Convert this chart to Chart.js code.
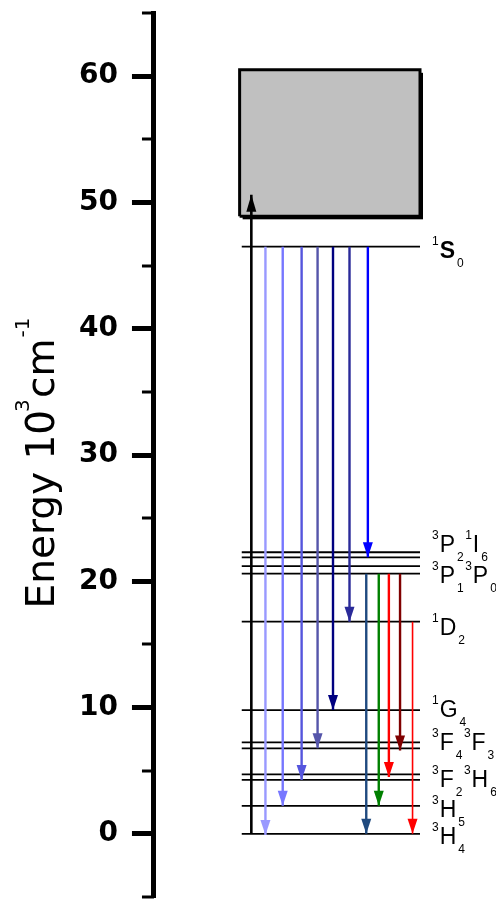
<!DOCTYPE html>
<html>
<head>
<meta charset="utf-8">
<script src="https://cdn.jsdelivr.net/npm/chart.js@4"></script>
<style>
  html, body { margin: 0; padding: 0; background: #fff; }
  #wrap { width: 496px; height: 899px; }
</style>
</head>
<body>
<div id="wrap"><canvas id="levels"></canvas></div>
<script>
// energy levels (10^3 cm-1)
const levelNames = ['1S0', '3P2', '1I6', '3P1', '3P0', '1D2', '1G4', '3F4', '3F3', '3F2', '3H6', '3H5', '3H4'];
const levelEnergy = [46.5, 22.3, 21.9, 21.2, 20.6, 16.8, 9.8, 7.25, 6.77, 4.71, 4.27, 2.22, 0];
const levelSpan = [3.3, 10];

// conduction band box
const bandX = [3.22, 10];
const bandY = [48.9, 60.5];

// excitation arrow
const pumpX = 3.66;
const pumpFrom = 0;
const pumpTo = 50.6;

// emission arrows
const arrowX = [4.19, 4.84, 5.55, 6.15, 6.73, 7.35, 8.04, 7.98, 8.45, 8.83, 9.25, 9.72];
const arrowFrom = [46.5, 46.5, 46.5, 46.5, 46.5, 46.5, 46.5, 20.6, 20.6, 20.6, 20.6, 16.8];
const arrowTo = [-0.1, 2.22, 4.27, 6.77, 9.8, 16.8, 21.9, 0, 2.22, 4.5, 6.6, 0];
const arrowColors = ['#9999ff', '#7777ff', '#5555dd', '#5555aa', '#000080', '#2a2a99', '#0000ff',
  '#1f4a7f', '#008000', '#ff0000', '#800000', '#ff0000'];

const yTicks = [0, 10, 20, 30, 40, 50, 60];
const yMin = -5;
const yMax = 65;

// level labels: ^ = superscript, _ = subscript
const labelTexts = ['^1S_0', '^3P_2^1I_6', '^3P_1^3P_0', '^1D_2', '^1G_4', '^3F_4^3F_3', '^3F_2^3H_6', '^3H_5', '^3H_4'];
const labelAt = [45.6, 22.33, 19.87, 15.76, 9.26, 6.65, 3.72, 1.35, -0.79];

const FONT = '"Liberation Sans", Arial, sans-serif';

const datasets = [];

arrowX.forEach((x, i) => {
  datasets.push({
    data: [{ x, y: arrowFrom[i] }, { x, y: arrowTo[i] }],
    borderColor: arrowColors[i],
    borderWidth: i === 11 ? 1.6 : 2.4,
    arrowHead: true,
  });
});

datasets.push({
  data: [{ x: pumpX, y: pumpFrom }, { x: pumpX, y: pumpTo }],
  borderColor: '#000',
  borderWidth: 2.6,
  arrowHead: true,
});

levelEnergy.forEach((e) => {
  datasets.push({
    data: [{ x: levelSpan[0], y: e }, { x: levelSpan[1], y: e }],
    borderColor: '#000',
    borderWidth: 1.8,
  });
});

datasets.push({
  data: [
    { x: bandX[0], y: bandY[0] }, { x: bandX[1], y: bandY[0] },
    { x: bandX[1], y: bandY[1] }, { x: bandX[0], y: bandY[1] },
    { x: bandX[0], y: bandY[0] },
  ],
  borderColor: '#000',
  borderWidth: 3,
  backgroundColor: '#c0c0c0',
  fill: 'shape',
});

function drawLevelLabel(ctx, text, x, y, bold) {
  let i = 0;
  while (i < text.length) {
    const c = text[i];
    if (c === '^' || c === '_') {
      const d = text[i + 1];
      ctx.font = `12px ${FONT}`;
      ctx.fillText(d, x, c === '^' ? y - 13 : y + 9);
      x += ctx.measureText(d).width + (c === '^' ? 1 : 1.5);
      i += 2;
    } else {
      ctx.font = `${bold ? 'bold ' : ''}23px ${FONT}`;
      ctx.fillText(c, x, y);
      x += ctx.measureText(c).width + 2;
      i += 1;
    }
  }
}

const diagramPlugin = {
  id: 'diagram',
  beforeDatasetsDraw(chart) {
    // drop shadow of the band box
    const { ctx, scales } = chart;
    const x0 = scales.x.getPixelForValue(bandX[0]);
    const x1 = scales.x.getPixelForValue(bandX[1]);
    const y0 = scales.y.getPixelForValue(bandY[1]);
    const y1 = scales.y.getPixelForValue(bandY[0]);
    ctx.save();
    ctx.fillStyle = '#000';
    ctx.fillRect(x0 + 3, y0 + 3, x1 - x0, y1 - y0);
    ctx.restore();
  },
  afterDatasetsDraw(chart) {
    const { ctx } = chart;
    ctx.save();
    chart.data.datasets.forEach((ds, i) => {
      if (!ds.arrowHead) return;
      const pts = chart.getDatasetMeta(i).data;
      const tip = pts[1];
      const dir = Math.sign(tip.y - pts[0].y);
      const len = ds.borderColor === '#000' ? 17 : 15;
      const hw = 5;
      ctx.fillStyle = ds.borderColor;
      ctx.beginPath();
      ctx.moveTo(tip.x, tip.y);
      ctx.lineTo(tip.x - hw, tip.y - dir * len);
      ctx.lineTo(tip.x + hw, tip.y - dir * len);
      ctx.closePath();
      ctx.fill();
    });
    ctx.restore();
  },
  afterDraw(chart) {
    const { ctx, chartArea, scales } = chart;
    ctx.save();

    // minor ticks
    ctx.strokeStyle = '#000';
    ctx.lineWidth = 3;
    for (let v = yMin; v <= yMax; v += 5) {
      if (yTicks.includes(v)) continue;
      const py = Math.round(scales.y.getPixelForValue(v));
      ctx.beginPath();
      ctx.moveTo(chartArea.left - 12, py);
      ctx.lineTo(chartArea.left, py);
      ctx.stroke();
    }

    // level labels
    ctx.fillStyle = '#000';
    ctx.textBaseline = 'alphabetic';
    ctx.textAlign = 'left';
    labelTexts.forEach((t, i) => {
      drawLevelLabel(ctx, t, chartArea.right + 12, scales.y.getPixelForValue(labelAt[i]), t === '^1S_0');
    });

    // axis title, rotated
    const big = '39px "DejaVu Sans", sans-serif';
    const small = '20px "DejaVu Sans", sans-serif';
    ctx.font = big;
    const w1 = ctx.measureText('Energy 10').width;
    const wcm = ctx.measureText('cm').width;
    ctx.font = small;
    const wsup = ctx.measureText('-1').width;
    const total = w1 + 12 + wcm + 1 + wsup;
    const cy = (chartArea.top + chartArea.bottom) / 2;
    ctx.translate(chartArea.left - 100, cy + total / 2 + 8);
    ctx.rotate(-Math.PI / 2);
    ctx.font = big;
    ctx.fillText('Energy 10', 0, 0);
    ctx.fillText('cm', w1 + 12, 0);
    ctx.font = small;
    ctx.fillText('3', w1 - 2, -25);
    ctx.fillText('-1', w1 + 12 + wcm + 1, -25);
    ctx.restore();
  },
};

new Chart(document.getElementById('levels'), {
  type: 'line',
  data: { datasets },
  options: {
    responsive: true,
    maintainAspectRatio: false,
    animation: false,
    events: [],
    clip: false,
    layout: {
      padding: { left: 65, right: 76, top: 13, bottom: 2 },
    },
    elements: {
      point: { radius: 0 },
      line: { tension: 0 },
    },
    plugins: {
      legend: { display: false },
      tooltip: { enabled: false },
    },
    scales: {
      x: {
        type: 'linear',
        min: 0,
        max: 10,
        display: false,
      },
      y: {
        type: 'linear',
        min: yMin,
        max: yMax,
        afterFit(axis) {
          axis.paddingTop = 0;
          axis.paddingBottom = 0;
        },
        ticks: {
          stepSize: 5,
          autoSkip: false,
          padding: 14,
          color: '#000',
          font: { family: 'DejaVu Sans', weight: 'bold', size: 28 },
          callback: (v) => (yTicks.includes(v) ? String(v) : null),
        },
        grid: {
          drawOnChartArea: false,
          tickLength: 22,
          tickWidth: 5,
          tickColor: '#000',
        },
        border: { display: true, width: 5, color: '#000' },
      },
    },
  },
  plugins: [diagramPlugin],
});
</script>
</body>
</html>
